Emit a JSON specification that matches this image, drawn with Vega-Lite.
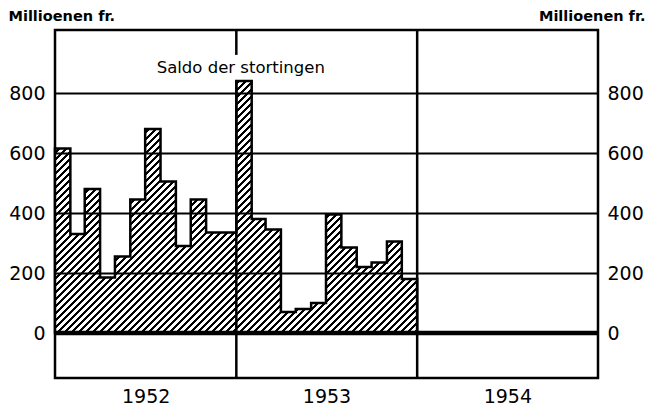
{
  "$schema": "https://vega.github.io/schema/vega-lite/v6.json",
  "width": 543,
  "height": 348,
  "autosize": "none",
  "padding": {"left": 55, "top": 30, "right": 58, "bottom": 31},
  "background": "white",
  "config": {"view": {"stroke": "black", "strokeWidth": 2.5}, "font": "DejaVu Sans"},
  "resolve": {"axis": {"y": "independent"}},
  "layer": [
    {
      "data": {"values": [
        {"month": "1952-01-01", "value": 615},
        {"month": "1952-02-01", "value": 330},
        {"month": "1952-03-01", "value": 480},
        {"month": "1952-04-01", "value": 185},
        {"month": "1952-05-01", "value": 255},
        {"month": "1952-06-01", "value": 445},
        {"month": "1952-07-01", "value": 680},
        {"month": "1952-08-01", "value": 505},
        {"month": "1952-09-01", "value": 290},
        {"month": "1952-10-01", "value": 445},
        {"month": "1952-11-01", "value": 335},
        {"month": "1952-12-01", "value": 335},
        {"month": "1953-01-01", "value": 840},
        {"month": "1953-02-01", "value": 380},
        {"month": "1953-03-01", "value": 345},
        {"month": "1953-04-01", "value": 70},
        {"month": "1953-05-01", "value": 80},
        {"month": "1953-06-01", "value": 100},
        {"month": "1953-07-01", "value": 395},
        {"month": "1953-08-01", "value": 285},
        {"month": "1953-09-01", "value": 220},
        {"month": "1953-10-01", "value": 235},
        {"month": "1953-11-01", "value": 305},
        {"month": "1953-12-01", "value": 180},
        {"month": "1954-01-01", "value": 180}
      ]},
      "mark": {
        "type": "area",
        "interpolate": "step-after",
        "stroke": "black",
        "strokeWidth": 2.5,
        "fill": {
          "gradient": "linear", "x1": 0, "y1": 0, "x2": 1.3025, "y2": 0.9067,
          "stops": [
{"offset":0,"color":"#000"},{"offset":0.0045,"color":"#000"},{"offset":0.0045,"color":"#fff"},{"offset":0.01,"color":"#fff"},
{"offset":0.01,"color":"#000"},{"offset":0.0145,"color":"#000"},{"offset":0.0145,"color":"#fff"},{"offset":0.02,"color":"#fff"},
{"offset":0.02,"color":"#000"},{"offset":0.0245,"color":"#000"},{"offset":0.0245,"color":"#fff"},{"offset":0.03,"color":"#fff"},
{"offset":0.03,"color":"#000"},{"offset":0.0345,"color":"#000"},{"offset":0.0345,"color":"#fff"},{"offset":0.04,"color":"#fff"},
{"offset":0.04,"color":"#000"},{"offset":0.0445,"color":"#000"},{"offset":0.0445,"color":"#fff"},{"offset":0.05,"color":"#fff"},
{"offset":0.05,"color":"#000"},{"offset":0.0545,"color":"#000"},{"offset":0.0545,"color":"#fff"},{"offset":0.06,"color":"#fff"},
{"offset":0.06,"color":"#000"},{"offset":0.0645,"color":"#000"},{"offset":0.0645,"color":"#fff"},{"offset":0.07,"color":"#fff"},
{"offset":0.07,"color":"#000"},{"offset":0.0745,"color":"#000"},{"offset":0.0745,"color":"#fff"},{"offset":0.08,"color":"#fff"},
{"offset":0.08,"color":"#000"},{"offset":0.0845,"color":"#000"},{"offset":0.0845,"color":"#fff"},{"offset":0.09,"color":"#fff"},
{"offset":0.09,"color":"#000"},{"offset":0.0945,"color":"#000"},{"offset":0.0945,"color":"#fff"},{"offset":0.1,"color":"#fff"},
{"offset":0.1,"color":"#000"},{"offset":0.1045,"color":"#000"},{"offset":0.1045,"color":"#fff"},{"offset":0.11,"color":"#fff"},
{"offset":0.11,"color":"#000"},{"offset":0.1145,"color":"#000"},{"offset":0.1145,"color":"#fff"},{"offset":0.12,"color":"#fff"},
{"offset":0.12,"color":"#000"},{"offset":0.1245,"color":"#000"},{"offset":0.1245,"color":"#fff"},{"offset":0.13,"color":"#fff"},
{"offset":0.13,"color":"#000"},{"offset":0.1345,"color":"#000"},{"offset":0.1345,"color":"#fff"},{"offset":0.14,"color":"#fff"},
{"offset":0.14,"color":"#000"},{"offset":0.1445,"color":"#000"},{"offset":0.1445,"color":"#fff"},{"offset":0.15,"color":"#fff"},
{"offset":0.15,"color":"#000"},{"offset":0.1545,"color":"#000"},{"offset":0.1545,"color":"#fff"},{"offset":0.16,"color":"#fff"},
{"offset":0.16,"color":"#000"},{"offset":0.1645,"color":"#000"},{"offset":0.1645,"color":"#fff"},{"offset":0.17,"color":"#fff"},
{"offset":0.17,"color":"#000"},{"offset":0.1745,"color":"#000"},{"offset":0.1745,"color":"#fff"},{"offset":0.18,"color":"#fff"},
{"offset":0.18,"color":"#000"},{"offset":0.1845,"color":"#000"},{"offset":0.1845,"color":"#fff"},{"offset":0.19,"color":"#fff"},
{"offset":0.19,"color":"#000"},{"offset":0.1945,"color":"#000"},{"offset":0.1945,"color":"#fff"},{"offset":0.2,"color":"#fff"},
{"offset":0.2,"color":"#000"},{"offset":0.2045,"color":"#000"},{"offset":0.2045,"color":"#fff"},{"offset":0.21,"color":"#fff"},
{"offset":0.21,"color":"#000"},{"offset":0.2145,"color":"#000"},{"offset":0.2145,"color":"#fff"},{"offset":0.22,"color":"#fff"},
{"offset":0.22,"color":"#000"},{"offset":0.2245,"color":"#000"},{"offset":0.2245,"color":"#fff"},{"offset":0.23,"color":"#fff"},
{"offset":0.23,"color":"#000"},{"offset":0.2345,"color":"#000"},{"offset":0.2345,"color":"#fff"},{"offset":0.24,"color":"#fff"},
{"offset":0.24,"color":"#000"},{"offset":0.2445,"color":"#000"},{"offset":0.2445,"color":"#fff"},{"offset":0.25,"color":"#fff"},
{"offset":0.25,"color":"#000"},{"offset":0.2545,"color":"#000"},{"offset":0.2545,"color":"#fff"},{"offset":0.26,"color":"#fff"},
{"offset":0.26,"color":"#000"},{"offset":0.2645,"color":"#000"},{"offset":0.2645,"color":"#fff"},{"offset":0.27,"color":"#fff"},
{"offset":0.27,"color":"#000"},{"offset":0.2745,"color":"#000"},{"offset":0.2745,"color":"#fff"},{"offset":0.28,"color":"#fff"},
{"offset":0.28,"color":"#000"},{"offset":0.2845,"color":"#000"},{"offset":0.2845,"color":"#fff"},{"offset":0.29,"color":"#fff"},
{"offset":0.29,"color":"#000"},{"offset":0.2945,"color":"#000"},{"offset":0.2945,"color":"#fff"},{"offset":0.3,"color":"#fff"},
{"offset":0.3,"color":"#000"},{"offset":0.3045,"color":"#000"},{"offset":0.3045,"color":"#fff"},{"offset":0.31,"color":"#fff"},
{"offset":0.31,"color":"#000"},{"offset":0.3145,"color":"#000"},{"offset":0.3145,"color":"#fff"},{"offset":0.32,"color":"#fff"},
{"offset":0.32,"color":"#000"},{"offset":0.3245,"color":"#000"},{"offset":0.3245,"color":"#fff"},{"offset":0.33,"color":"#fff"},
{"offset":0.33,"color":"#000"},{"offset":0.3345,"color":"#000"},{"offset":0.3345,"color":"#fff"},{"offset":0.34,"color":"#fff"},
{"offset":0.34,"color":"#000"},{"offset":0.3445,"color":"#000"},{"offset":0.3445,"color":"#fff"},{"offset":0.35,"color":"#fff"},
{"offset":0.35,"color":"#000"},{"offset":0.3545,"color":"#000"},{"offset":0.3545,"color":"#fff"},{"offset":0.36,"color":"#fff"},
{"offset":0.36,"color":"#000"},{"offset":0.3645,"color":"#000"},{"offset":0.3645,"color":"#fff"},{"offset":0.37,"color":"#fff"},
{"offset":0.37,"color":"#000"},{"offset":0.3745,"color":"#000"},{"offset":0.3745,"color":"#fff"},{"offset":0.38,"color":"#fff"},
{"offset":0.38,"color":"#000"},{"offset":0.3845,"color":"#000"},{"offset":0.3845,"color":"#fff"},{"offset":0.39,"color":"#fff"},
{"offset":0.39,"color":"#000"},{"offset":0.3945,"color":"#000"},{"offset":0.3945,"color":"#fff"},{"offset":0.4,"color":"#fff"},
{"offset":0.4,"color":"#000"},{"offset":0.4045,"color":"#000"},{"offset":0.4045,"color":"#fff"},{"offset":0.41,"color":"#fff"},
{"offset":0.41,"color":"#000"},{"offset":0.4145,"color":"#000"},{"offset":0.4145,"color":"#fff"},{"offset":0.42,"color":"#fff"},
{"offset":0.42,"color":"#000"},{"offset":0.4245,"color":"#000"},{"offset":0.4245,"color":"#fff"},{"offset":0.43,"color":"#fff"},
{"offset":0.43,"color":"#000"},{"offset":0.4345,"color":"#000"},{"offset":0.4345,"color":"#fff"},{"offset":0.44,"color":"#fff"},
{"offset":0.44,"color":"#000"},{"offset":0.4445,"color":"#000"},{"offset":0.4445,"color":"#fff"},{"offset":0.45,"color":"#fff"},
{"offset":0.45,"color":"#000"},{"offset":0.4545,"color":"#000"},{"offset":0.4545,"color":"#fff"},{"offset":0.46,"color":"#fff"},
{"offset":0.46,"color":"#000"},{"offset":0.4645,"color":"#000"},{"offset":0.4645,"color":"#fff"},{"offset":0.47,"color":"#fff"},
{"offset":0.47,"color":"#000"},{"offset":0.4745,"color":"#000"},{"offset":0.4745,"color":"#fff"},{"offset":0.48,"color":"#fff"},
{"offset":0.48,"color":"#000"},{"offset":0.4845,"color":"#000"},{"offset":0.4845,"color":"#fff"},{"offset":0.49,"color":"#fff"},
{"offset":0.49,"color":"#000"},{"offset":0.4945,"color":"#000"},{"offset":0.4945,"color":"#fff"},{"offset":0.5,"color":"#fff"},
{"offset":0.5,"color":"#000"},{"offset":0.5045,"color":"#000"},{"offset":0.5045,"color":"#fff"},{"offset":0.51,"color":"#fff"},
{"offset":0.51,"color":"#000"},{"offset":0.5145,"color":"#000"},{"offset":0.5145,"color":"#fff"},{"offset":0.52,"color":"#fff"},
{"offset":0.52,"color":"#000"},{"offset":0.5245,"color":"#000"},{"offset":0.5245,"color":"#fff"},{"offset":0.53,"color":"#fff"},
{"offset":0.53,"color":"#000"},{"offset":0.5345,"color":"#000"},{"offset":0.5345,"color":"#fff"},{"offset":0.54,"color":"#fff"},
{"offset":0.54,"color":"#000"},{"offset":0.5445,"color":"#000"},{"offset":0.5445,"color":"#fff"},{"offset":0.55,"color":"#fff"},
{"offset":0.55,"color":"#000"},{"offset":0.5545,"color":"#000"},{"offset":0.5545,"color":"#fff"},{"offset":0.56,"color":"#fff"},
{"offset":0.56,"color":"#000"},{"offset":0.5645,"color":"#000"},{"offset":0.5645,"color":"#fff"},{"offset":0.57,"color":"#fff"},
{"offset":0.57,"color":"#000"},{"offset":0.5745,"color":"#000"},{"offset":0.5745,"color":"#fff"},{"offset":0.58,"color":"#fff"},
{"offset":0.58,"color":"#000"},{"offset":0.5845,"color":"#000"},{"offset":0.5845,"color":"#fff"},{"offset":0.59,"color":"#fff"},
{"offset":0.59,"color":"#000"},{"offset":0.5945,"color":"#000"},{"offset":0.5945,"color":"#fff"},{"offset":0.6,"color":"#fff"},
{"offset":0.6,"color":"#000"},{"offset":0.6045,"color":"#000"},{"offset":0.6045,"color":"#fff"},{"offset":0.61,"color":"#fff"},
{"offset":0.61,"color":"#000"},{"offset":0.6145,"color":"#000"},{"offset":0.6145,"color":"#fff"},{"offset":0.62,"color":"#fff"},
{"offset":0.62,"color":"#000"},{"offset":0.6245,"color":"#000"},{"offset":0.6245,"color":"#fff"},{"offset":0.63,"color":"#fff"},
{"offset":0.63,"color":"#000"},{"offset":0.6345,"color":"#000"},{"offset":0.6345,"color":"#fff"},{"offset":0.64,"color":"#fff"},
{"offset":0.64,"color":"#000"},{"offset":0.6445,"color":"#000"},{"offset":0.6445,"color":"#fff"},{"offset":0.65,"color":"#fff"},
{"offset":0.65,"color":"#000"},{"offset":0.6545,"color":"#000"},{"offset":0.6545,"color":"#fff"},{"offset":0.66,"color":"#fff"},
{"offset":0.66,"color":"#000"},{"offset":0.6645,"color":"#000"},{"offset":0.6645,"color":"#fff"},{"offset":0.67,"color":"#fff"},
{"offset":0.67,"color":"#000"},{"offset":0.6745,"color":"#000"},{"offset":0.6745,"color":"#fff"},{"offset":0.68,"color":"#fff"},
{"offset":0.68,"color":"#000"},{"offset":0.6845,"color":"#000"},{"offset":0.6845,"color":"#fff"},{"offset":0.69,"color":"#fff"},
{"offset":0.69,"color":"#000"},{"offset":0.6945,"color":"#000"},{"offset":0.6945,"color":"#fff"},{"offset":0.7,"color":"#fff"},
{"offset":0.7,"color":"#000"},{"offset":0.7045,"color":"#000"},{"offset":0.7045,"color":"#fff"},{"offset":0.71,"color":"#fff"},
{"offset":0.71,"color":"#000"},{"offset":0.7145,"color":"#000"},{"offset":0.7145,"color":"#fff"},{"offset":0.72,"color":"#fff"},
{"offset":0.72,"color":"#000"},{"offset":0.7245,"color":"#000"},{"offset":0.7245,"color":"#fff"},{"offset":0.73,"color":"#fff"},
{"offset":0.73,"color":"#000"},{"offset":0.7345,"color":"#000"},{"offset":0.7345,"color":"#fff"},{"offset":0.74,"color":"#fff"},
{"offset":0.74,"color":"#000"},{"offset":0.7445,"color":"#000"},{"offset":0.7445,"color":"#fff"},{"offset":0.75,"color":"#fff"},
{"offset":0.75,"color":"#000"},{"offset":0.7545,"color":"#000"},{"offset":0.7545,"color":"#fff"},{"offset":0.76,"color":"#fff"},
{"offset":0.76,"color":"#000"},{"offset":0.7645,"color":"#000"},{"offset":0.7645,"color":"#fff"},{"offset":0.77,"color":"#fff"},
{"offset":0.77,"color":"#000"},{"offset":0.7745,"color":"#000"},{"offset":0.7745,"color":"#fff"},{"offset":0.78,"color":"#fff"},
{"offset":0.78,"color":"#000"},{"offset":0.7845,"color":"#000"},{"offset":0.7845,"color":"#fff"},{"offset":0.79,"color":"#fff"},
{"offset":0.79,"color":"#000"},{"offset":0.7945,"color":"#000"},{"offset":0.7945,"color":"#fff"},{"offset":0.8,"color":"#fff"},
{"offset":0.8,"color":"#000"},{"offset":0.8045,"color":"#000"},{"offset":0.8045,"color":"#fff"},{"offset":0.81,"color":"#fff"},
{"offset":0.81,"color":"#000"},{"offset":0.8145,"color":"#000"},{"offset":0.8145,"color":"#fff"},{"offset":0.82,"color":"#fff"},
{"offset":0.82,"color":"#000"},{"offset":0.8245,"color":"#000"},{"offset":0.8245,"color":"#fff"},{"offset":0.83,"color":"#fff"},
{"offset":0.83,"color":"#000"},{"offset":0.8345,"color":"#000"},{"offset":0.8345,"color":"#fff"},{"offset":0.84,"color":"#fff"},
{"offset":0.84,"color":"#000"},{"offset":0.8445,"color":"#000"},{"offset":0.8445,"color":"#fff"},{"offset":0.85,"color":"#fff"},
{"offset":0.85,"color":"#000"},{"offset":0.8545,"color":"#000"},{"offset":0.8545,"color":"#fff"},{"offset":0.86,"color":"#fff"},
{"offset":0.86,"color":"#000"},{"offset":0.8645,"color":"#000"},{"offset":0.8645,"color":"#fff"},{"offset":0.87,"color":"#fff"},
{"offset":0.87,"color":"#000"},{"offset":0.8745,"color":"#000"},{"offset":0.8745,"color":"#fff"},{"offset":0.88,"color":"#fff"},
{"offset":0.88,"color":"#000"},{"offset":0.8845,"color":"#000"},{"offset":0.8845,"color":"#fff"},{"offset":0.89,"color":"#fff"},
{"offset":0.89,"color":"#000"},{"offset":0.8945,"color":"#000"},{"offset":0.8945,"color":"#fff"},{"offset":0.9,"color":"#fff"}
          ]
        }
      },
      "encoding": {
        "x": {
          "field": "month", "type": "temporal",
          "scale": {"type": "utc", "domain": [{"year": 1952, "month": 1, "date": 1, "utc": true}, {"year": 1955, "month": 1, "date": 1, "utc": true}]},
          "axis": {
            "values": [{"year": 1952, "month": 7, "date": 2, "utc": true}, {"year": 1953, "month": 7, "date": 2, "utc": true}, {"year": 1954, "month": 7, "date": 2, "utc": true}],
            "format": "%Y", "ticks": false, "domain": false, "grid": false,
            "labelFont": "DejaVu Sans", "labelFontSize": 19, "labelColor": "black", "labelPadding": 9,
            "title": null
          }
        },
        "y": {
          "field": "value", "type": "quantitative",
          "scale": {"domain": [-150, 1010], "nice": false, "zero": false},
          "axis": {
            "orient": "left", "values": [0, 200, 400, 600, 800],
            "grid": true, "gridColor": "black", "gridWidth": 2, "gridOpacity": 1,
            "ticks": false, "domain": false,
            "labelFont": "DejaVu Sans", "labelFontSize": 19, "labelColor": "black", "labelPadding": 10, "labelBaseline": "middle",
            "title": "Millioenen fr.", "titleFont": "DejaVu Sans", "titleFontSize": 14.5, "titleFontWeight": "bold", "titleColor": "black",
            "titleAngle": 0, "titleAlign": "left", "titleBaseline": "alphabetic", "titleX": -47, "titleY": -10,
            "zindex": 1
          }
        },
        "y2": {"datum": 0}
      }
    },
    {
      "data": {"values": [{}]},
      "mark": {"type": "rule", "color": "black", "strokeWidth": 4.5},
      "encoding": {
        "y": {
          "datum": 0, "type": "quantitative",
          "axis": {
            "orient": "right", "values": [0, 200, 400, 600, 800],
            "grid": false, "ticks": false, "domain": false,
            "labelFont": "DejaVu Sans", "labelFontSize": 19, "labelColor": "black", "labelPadding": 9, "labelBaseline": "middle",
            "title": "Millioenen fr.", "titleFont": "DejaVu Sans", "titleFontSize": 14.5, "titleFontWeight": "bold", "titleColor": "black",
            "titleAngle": 0, "titleAlign": "right", "titleBaseline": "alphabetic", "titleX": 47, "titleY": -10
          }
        }
      }
    },
    {
      "data": {"values": [{}]},
      "mark": {"type": "rule", "color": "black", "strokeWidth": 2.5},
      "encoding": {
        "x": {"datum": {"year": 1954, "month": 1, "date": 1, "utc": true}, "type": "temporal", "scale": {"type": "utc"}}
      }
    },
    {
      "data": {"values": [{}]},
      "mark": {"type": "rule", "color": "black", "strokeWidth": 2.5},
      "encoding": {
        "x": {"datum": {"year": 1953, "month": 1, "date": 1, "utc": true}, "type": "temporal", "scale": {"type": "utc"}},
        "y": {"datum": 927, "type": "quantitative", "axis": null},
        "y2": {"datum": 1010}
      }
    },
    {
      "data": {"values": [{}]},
      "mark": {"type": "rule", "color": "black", "strokeWidth": 2.5},
      "encoding": {
        "x": {"datum": {"year": 1953, "month": 1, "date": 1, "utc": true}, "type": "temporal", "scale": {"type": "utc"}},
        "y": {"datum": -150, "type": "quantitative", "axis": null},
        "y2": {"datum": 840}
      }
    },
    {
      "data": {"values": [{}]},
      "mark": {"type": "text", "text": "Saldo der stortingen", "font": "DejaVu Sans", "fontSize": 16.5, "color": "black", "align": "center", "baseline": "alphabetic"},
      "encoding": {
        "x": {"datum": {"year": 1953, "month": 1, "date": 10, "utc": true}, "type": "temporal", "scale": {"type": "utc"}},
        "y": {"datum": 867, "type": "quantitative", "axis": null}
      }
    }
  ]
}
